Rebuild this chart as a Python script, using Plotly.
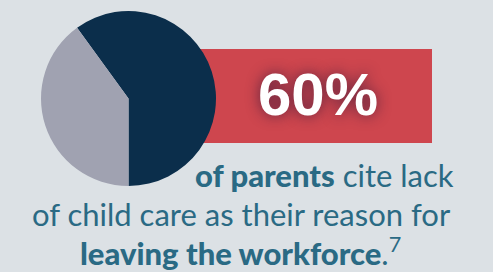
import plotly.graph_objects as go

labels = ["Cite lack of child care", "Other"]
values = [60, 40]
colors = ["#0B2E4B", "#A0A2B1"]

headline = "60%"
B = '<span style="font-weight:900">'
line1 = B + "of parents</span> cite lack"
line2 = "of child care as their reason for"
line3 = B + "leaving the workforce</span>.<sup>7</sup>"

W, H = 493, 272
BG = "#DCE1E5"
TEXT = "#2A6A84"
FS = 31

fig = go.Figure()
fig.add_trace(go.Pie(
    labels=labels, values=values, sort=False, direction="clockwise",
    rotation=-36, marker=dict(colors=colors, line=dict(width=0)),
    textinfo="none", hoverinfo="label+percent", showlegend=False,
    domain=dict(x=[41 / W, 216 / W], y=[(H - 186) / H, (H - 11) / H]),
))

fig.add_shape(type="rect", xref="paper", yref="paper",
              x0=190 / W, x1=432 / W, y0=(H - 143) / H, y1=(H - 49) / H,
              fillcolor="#CE464E", line=dict(width=0), layer="below")

fig.add_annotation(xref="paper", yref="paper", x=318 / W, y=(H - 94) / H,
                   text="<b>" + headline + "</b>", showarrow=False,
                   xanchor="center", yanchor="middle",
                   font=dict(family="Liberation Sans, Arial", size=60, color="white",
                             shadow="0px 0px 14px rgba(75,30,60,0.9)"))

fig.add_annotation(xref="paper", yref="paper", x=456 / W, y=(H - 175) / H,
                   text=line1, showarrow=False, xanchor="right", yanchor="middle",
                   font=dict(family="Lato", size=FS, color=TEXT))
fig.add_annotation(xref="paper", yref="paper", x=241.5 / W, y=(H - 214) / H,
                   text=line2, showarrow=False, xanchor="center", yanchor="middle",
                   font=dict(family="Lato", size=FS, color=TEXT))
fig.add_annotation(xref="paper", yref="paper", x=240 / W, y=(H - 251) / H,
                   text=line3, showarrow=False, xanchor="center", yanchor="middle",
                   font=dict(family="Lato", size=FS, color=TEXT))

fig.update_layout(width=W, height=H, margin=dict(l=0, r=0, t=0, b=0),
                  paper_bgcolor=BG, plot_bgcolor=BG)
fig.write_html("out.html", config={"displayModeBar": False},
               post_script="document.body.style.margin='0';")
